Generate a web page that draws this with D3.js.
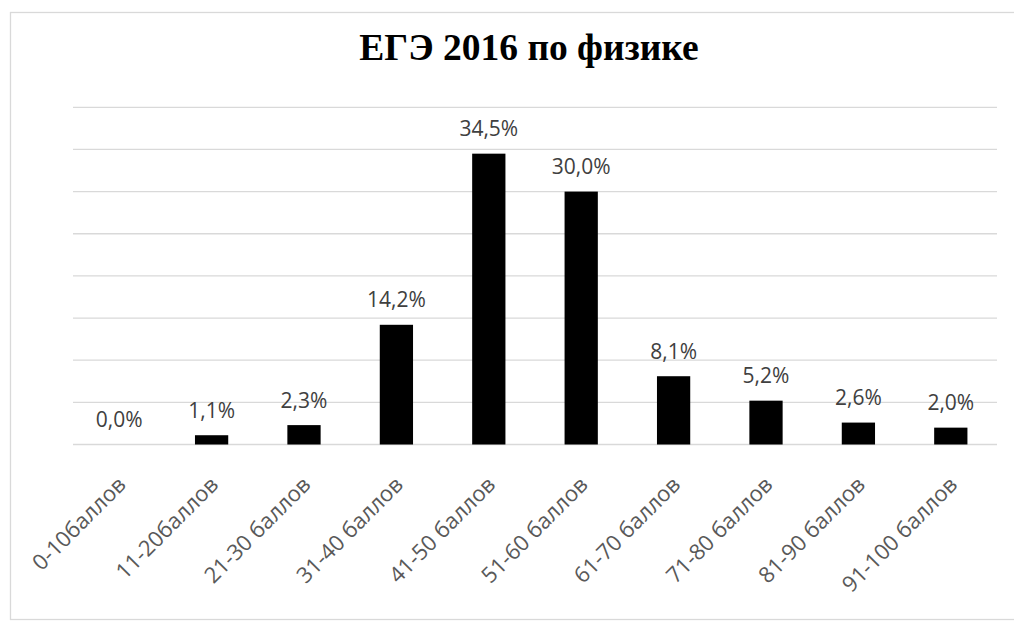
<!DOCTYPE html>
<html>
<head>
<meta charset="utf-8">
<script src="https://cdn.jsdelivr.net/npm/d3@7"></script>
<style>
html,body{margin:0;padding:0;background:#fff;}
svg{display:block;}
</style>
</head>
<body>
<script>
const categories = ["0-10баллов","11-20баллов","21-30 баллов","31-40 баллов","41-50 баллов","51-60 баллов","61-70 баллов","71-80 баллов","81-90 баллов","91-100 баллов"];
const values = [0.0, 1.1, 2.3, 14.2, 34.5, 30.0, 8.1, 5.2, 2.6, 2.0];
const valueLabels = ["0,0%","1,1%","2,3%","14,2%","34,5%","30,0%","8,1%","5,2%","2,6%","2,0%"];
const gridTicks = [0,5,10,15,20,25,30,35,40];
const title = "ЕГЭ 2016 по физике";

const W = 1014, H = 621;
const svg = d3.select("body").append("svg").attr("width", W).attr("height", H);

// outer frame
svg.append("rect").attr("x", 10.5).attr("y", 12.5).attr("width", 1020).attr("height", 607)
  .attr("fill", "#fff").attr("stroke", "#d9d9d9").attr("stroke-width", 1.3);

const x = d3.scaleBand().domain(categories).range([73, 997]).paddingInner(0.64).paddingOuter(0.32);
const y = d3.scaleLinear().domain([0, 40]).range([444.5, 107.3]);

// gridlines
svg.append("g").selectAll("line").data(gridTicks).join("line")
  .attr("x1", 73).attr("x2", 997)
  .attr("y1", d => y(d)).attr("y2", d => y(d))
  .attr("stroke", "#d9d9d9").attr("stroke-width", 1.3);

// bars
svg.append("g").selectAll("rect").data(values).join("rect")
  .attr("x", (d, i) => x(categories[i]))
  .attr("width", x.bandwidth())
  .attr("y", d => y(d))
  .attr("height", d => y(0) - y(d))
  .attr("fill", "#000");

// data labels
svg.append("g").selectAll("text").data(values).join("text")
  .attr("x", (d, i) => x(categories[i]) + x.bandwidth() / 2)
  .attr("y", d => y(d) - 17.5)
  .attr("text-anchor", "middle")
  .attr("font-family", "'Open Sans', sans-serif")
  .attr("font-size", 21)
  .attr("fill", "#404040")
  .text((d, i) => valueLabels[i]);

// category labels
svg.append("g").selectAll("text").data(categories).join("text")
  .attr("transform", d => `translate(${x(d) + x.bandwidth() / 2 + 8},486) rotate(-45)`)
  .attr("text-anchor", "end")
  .attr("font-family", "'Open Sans', sans-serif")
  .attr("font-size", 22)
  .attr("fill", "#595959")
  .text(d => d);

// title
svg.append("text")
  .attr("x", 529).attr("y", 60)
  .attr("text-anchor", "middle")
  .attr("font-family", "'Liberation Serif', 'Times New Roman', serif")
  .attr("font-weight", "bold")
  .attr("font-size", 37.5)
  .attr("fill", "#000")
  .text(title);
</script>
</body>
</html>
